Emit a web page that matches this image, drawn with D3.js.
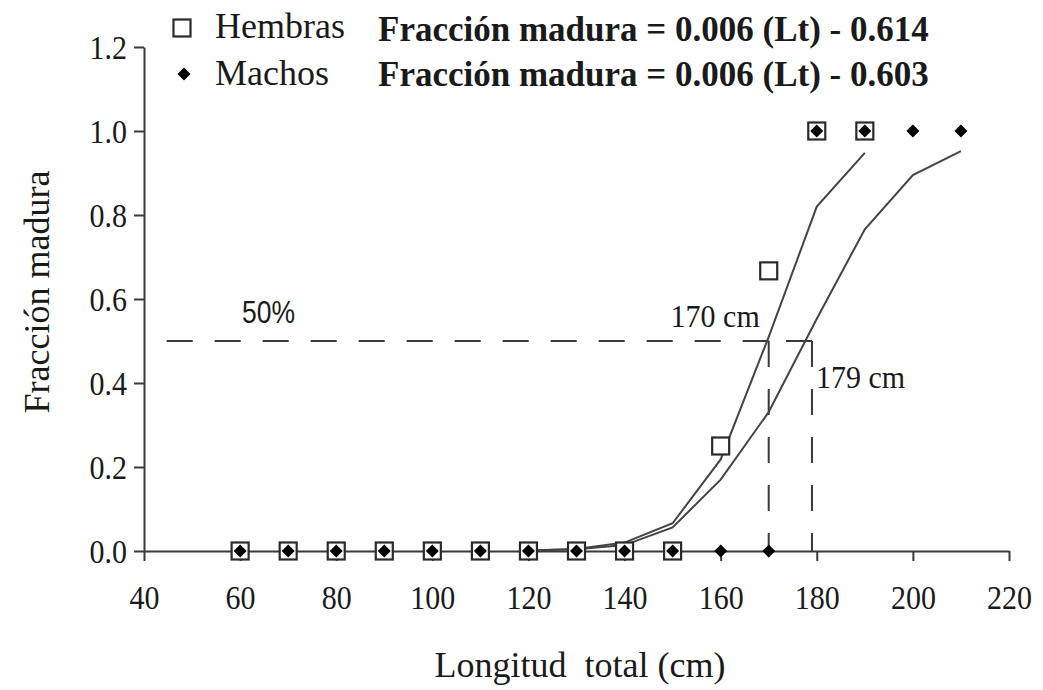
<!DOCTYPE html>
<html>
<head>
<meta charset="utf-8">
<script src="https://cdn.jsdelivr.net/npm/d3@7"></script>
<style>
  html, body { margin: 0; padding: 0; background: #fff; }
  svg { display: block; }
  text { font-family: "Liberation Serif", "Times New Roman", serif; fill: #1a1a1a; }
</style>
</head>
<body>
<svg id="chart" width="1043" height="690"></svg>
<script>
// Observed maturity by length class (cm)
const hembrasLength = [60, 70, 80, 90, 100, 110, 120, 130, 140, 150, 160, 170, 180, 190];
const hembrasMature = [0, 0, 0, 0, 0, 0, 0, 0, 0, 0, 0.25, 0.667, 1, 1];
const machosLength = [60, 70, 80, 90, 100, 110, 120, 130, 140, 150, 160, 170, 180, 190, 200, 210];
const machosMature = [0, 0, 0, 0, 0, 0, 0, 0, 0, 0, 0, 0, 1, 1, 1, 1];

// Fitted maturity curves
const hembrasFitLength = [120, 130, 140, 150, 160, 170, 180, 190];
const hembrasFit = [0.001, 0.005, 0.02, 0.066, 0.218, 0.51, 0.82, 0.948];
const machosFitLength = [120, 130, 140, 150, 160, 170, 180, 190, 200, 210];
const machosFit = [0.001, 0.004, 0.014, 0.056, 0.17, 0.331, 0.553, 0.766, 0.895, 0.952];

// Length at 50% maturity
const maturityLevel = 0.5;
const l50 = [170, 179];
const l50Labels = ["170 cm", "179 cm"];

// Axis ticks and texts
const xTicks = [40, 60, 80, 100, 120, 140, 160, 180, 200, 220];
const yTicks = [0, 0.2, 0.4, 0.6, 0.8, 1.0, 1.2];
const seriesNames = ["Hembras", "Machos"];
const equations = ["Fracción madura = 0.006 (Lt) - 0.614", "Fracción madura = 0.006 (Lt) - 0.603"];
const xTitle = "Longitud  total (cm)";
const yTitle = "Fracción madura";

const serif = '"Liberation Serif", "Times New Roman", serif';
const svg = d3.select("#chart");
const ink = "#3a3a3a";

const x = d3.scaleLinear().domain([40, 220]).range([144, 1009]);
const y = d3.scaleLinear().domain([0, 1.2]).range([551, 47]);

// Axes
const xAxis = svg.append("g")
  .attr("transform", `translate(0,${y(0)})`)
  .call(d3.axisBottom(x).tickValues(xTicks).tickSize(10).tickSizeOuter(0).tickFormat(d3.format("d")));
const yAxis = svg.append("g")
  .attr("transform", `translate(${x(40)},0)`)
  .call(d3.axisLeft(y).tickValues(yTicks).tickSize(10).tickSizeOuter(0).tickFormat(d3.format(".1f")));

[xAxis, yAxis].forEach(a => {
  a.attr("font-family", serif);
  a.select(".domain").attr("stroke", ink).attr("stroke-width", 2);
  a.selectAll(".tick line").attr("stroke", ink).attr("stroke-width", 2);
  a.selectAll(".tick text")
    .style("font-family", serif)
    .attr("font-size", 30)
    .attr("fill", "#262626");
});
xAxis.selectAll(".tick text").attr("dy", null).attr("y", 58 / 1.12).attr("transform", "scale(1,1.12)");
yAxis.selectAll(".tick text").attr("x", -17).attr("dy", "0.34em").attr("transform", "scale(1,1.12)");

// 50% reference lines
const dash = "26,22";
const lineGroup = svg.append("g").attr("stroke", ink).attr("stroke-width", 2).attr("fill", "none")
  .attr("stroke-dasharray", dash);
// horizontal: drawn from each L50 mark back towards the axis
lineGroup.append("line")
  .attr("x1", x(l50[0])).attr("x2", x(40))
  .attr("y1", y(maturityLevel)).attr("y2", y(maturityLevel));
lineGroup.append("line")
  .attr("x1", x(l50[1])).attr("x2", x(l50[0]))
  .attr("y1", y(maturityLevel)).attr("y2", y(maturityLevel));
lineGroup.selectAll("line.v").data(l50).join("line")
  .attr("class", "v")
  .attr("x1", d => x(d)).attr("x2", d => x(d))
  .attr("y1", y(maturityLevel)).attr("y2", y(0));

// Fitted curves
const line = d3.line().x(d => x(d[0])).y(d => y(d[1]));
svg.append("path")
  .datum(hembrasFitLength.map((l, i) => [l, hembrasFit[i]]))
  .attr("d", line).attr("fill", "none").attr("stroke", "#444").attr("stroke-width", 2);
svg.append("path")
  .datum(machosFitLength.map((l, i) => [l, machosFit[i]]))
  .attr("d", line).attr("fill", "none").attr("stroke", "#444").attr("stroke-width", 2);

// Markers
const sq = 17, dia = 6.5;
const diamondPath = `M0,${-dia}L${dia},0L0,${dia}L${-dia},0Z`;
svg.append("g").selectAll("rect")
  .data(hembrasLength.map((l, i) => [l, hembrasMature[i]]))
  .join("rect")
  .attr("x", d => x(d[0]) - sq / 2).attr("y", d => y(d[1]) - sq / 2)
  .attr("width", sq).attr("height", sq)
  .attr("fill", "#fff").attr("stroke", "#2a2a2a").attr("stroke-width", 2.2);
svg.append("g").selectAll("path")
  .data(machosLength.map((l, i) => [l, machosMature[i]]))
  .join("path")
  .attr("transform", d => `translate(${x(d[0])},${y(d[1])})`)
  .attr("d", diamondPath).attr("fill", "#000");

// Legend with the fitted equations
const legend = svg.append("g");
legend.append("rect").attr("x", 182 - sq / 2).attr("y", 28 - sq / 2).attr("width", sq).attr("height", sq)
  .attr("fill", "#fff").attr("stroke", "#2a2a2a").attr("stroke-width", 2.2);
legend.append("path").attr("transform", "translate(184,74)").attr("d", diamondPath).attr("fill", "#000");
legend.selectAll("text.name").data(seriesNames).join("text")
  .attr("class", "name")
  .attr("x", 215).attr("y", (d, i) => 38 + i * 47)
  .attr("font-size", 36).text(d => d);
legend.selectAll("text.eq").data(equations).join("text")
  .attr("class", "eq")
  .attr("x", 378).attr("y", (d, i) => 41 + i * 45)
  .attr("font-size", 35).attr("font-weight", "bold").text(d => d);

// Annotations
svg.append("text")
  .attr("transform", `translate(242,${y(maturityLevel) - 18}) scale(1,1.2)`)
  .style("font-family", '"Liberation Sans", Arial, sans-serif')
  .attr("font-size", 26.5).attr("fill", "#333").text(d3.format(".0%")(maturityLevel));
svg.append("text")
  .attr("transform", `translate(${x(l50[0]) - 9},327) scale(1,1.08)`)
  .attr("text-anchor", "end").attr("font-size", 30).text(l50Labels[0]);
svg.append("text")
  .attr("transform", `translate(${x(l50[1]) + 4},388) scale(1,1.08)`)
  .attr("font-size", 30).text(l50Labels[1]);

// Axis titles
svg.append("text")
  .attr("x", 580).attr("y", 677).attr("text-anchor", "middle")
  .attr("font-size", 36).style("white-space", "pre").text(xTitle);
svg.append("text")
  .attr("transform", "translate(49,292) rotate(-90)")
  .attr("text-anchor", "middle").attr("font-size", 36).text(yTitle);
</script>
</body>
</html>
